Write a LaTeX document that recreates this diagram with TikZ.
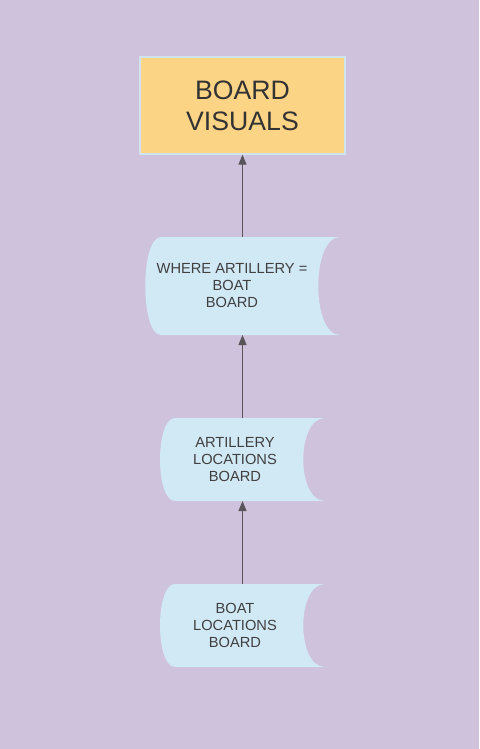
\documentclass[tikz,border=0pt]{standalone}
\usepackage{fontspec}
\setmainfont{Liberation Sans}
\usetikzlibrary{arrows.meta, calc, positioning}
\definecolor{lavender}{HTML}{CFC2DC}
\definecolor{boxyellow}{HTML}{FCD486}
\definecolor{boxedge}{HTML}{D0E4F0}
\definecolor{datablue}{HTML}{D1E8F5}
\definecolor{flowgray}{HTML}{595459}
\definecolor{textgray}{HTML}{404040}

\begin{document}
\begin{tikzpicture}[x=0.75pt, y=-0.75pt, >={Triangle[length=7.5pt, width=6pt]},
                    flow/.style={->, draw=flowgray, line width=0.75pt},
                    databox/.style={inner sep=0pt, outer sep=0pt},
                    datatext/.style={text=textgray, align=center, font=\fontsize{11}{12.75}\selectfont}]

                      % background
                      \fill[lavender] (0,0) rectangle (479,749);

                      % board visuals
                      \node[draw=boxedge, fill=boxyellow, line width=1pt, minimum width=153.75pt, minimum height=72.75pt, inner sep=0pt, text=black!80, align=center, font=\fontsize{20}{23.25}\selectfont] (visuals) at (242.5,105.5) {BOARD\\VISUALS};

                      % where artillery = boat
                      \node[databox, minimum width=146.25pt, minimum height=73.5pt] (where) at (242.5,286) {};
                      \fill[datablue] ($(where.north west)+(16,0)$) -- (where.north east) .. controls +(-29,0) and +(-29,0) .. (where.south east) -- ($(where.south west)+(16,0)$) .. controls +(-21,0) and +(-21,0) .. ($(where.north west)+(16,0)$) -- cycle;
                      \node[datatext] (wheretxt) at ($(where)+(-10.5,0)$) {WHERE ARTILLERY =\\BOAT\\BOARD};

                      % artillery locations
                      \node[databox, minimum width=123.75pt, minimum height=62.25pt] (artillery) at (242.5,459.5) {};
                      \fill[datablue] ($(artillery.north west)+(15,0)$) -- (artillery.north east) .. controls +(-29,0) and +(-29,0) .. (artillery.south east) -- ($(artillery.south west)+(15,0)$) .. controls +(-20,0) and +(-20,0) .. ($(artillery.north west)+(15,0)$) -- cycle;
                      \node[datatext] (artillerytxt) at ($(artillery)+(-7.5,0)$) {ARTILLERY\\LOCATIONS\\BOARD};

                      % boat locations
                      \node[databox, minimum width=123.75pt, minimum height=62.25pt] (boat) at (242.5,625.5) {};
                      \fill[datablue] ($(boat.north west)+(15,0)$) -- (boat.north east) .. controls +(-29,0) and +(-29,0) .. (boat.south east) -- ($(boat.south west)+(15,0)$) .. controls +(-20,0) and +(-20,0) .. ($(boat.north west)+(15,0)$) -- cycle;
                      \node[datatext] (boattxt) at ($(boat)+(-7.5,0)$) {BOAT\\LOCATIONS\\BOARD};

                      % flow
                      \draw[flow] (boat.north) -- (artillery.south);
                      \draw[flow] (artillery.north) -- (where.south);
                      \draw[flow] (where.north) -- (visuals.south);

                    \end{tikzpicture}
\end{document}
